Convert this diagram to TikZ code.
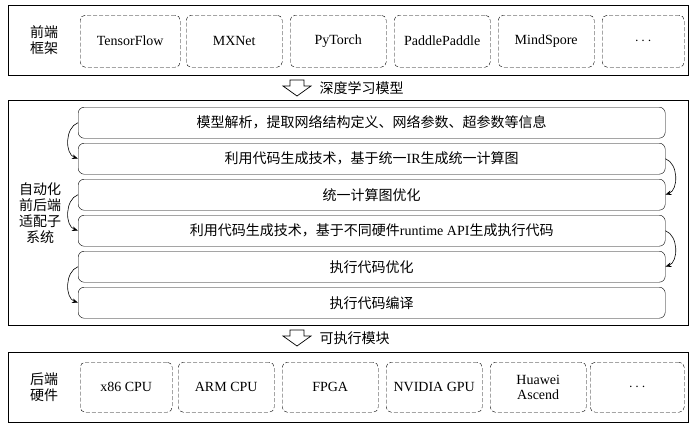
\documentclass[tikz,border=0pt]{standalone}
\usepackage{fontspec}
\setmainfont{Liberation Serif}
\newfontfamily\cjk{Noto Sans CJK SC}
\usetikzlibrary{arrows.meta}
\begin{document}
\begin{tikzpicture}[x=1pt,y=-1pt,
  frame/.style={draw,thick,line width=1pt},
  dbox/.style={draw,dash pattern=on 4pt off 2pt,rounded corners=5pt,minimum width=96pt,minimum height=52pt,font=\fontsize{14}{15}\selectfont,align=center,anchor=north west},
  rowbox/.style={draw,rounded corners=6pt,minimum width=587pt,minimum height=31pt,anchor=north west,font=\fontsize{14}{15}\selectfont},
  lab/.style={font=\cjk\fontsize{14}{16}\selectfont,align=center},
  curv/.style={-{Stealth[length=6pt]},line width=0.6pt}]
\useasboundingbox (0,0) rectangle (700,429);
\fill[white] (0,0) rectangle (700,429);
% top
\draw[frame] (8,5) rectangle (688,75);
\node[lab] (tl) at (44,40) {前端\\框架};
\node[dbox,minimum width=100pt] (b1) at (80,15) {TensorFlow};
\node[dbox] (b2) at (186,15) {MXNet};
\node[dbox] (b3) at (290,15) {PyTorch};
\node[dbox] (b4) at (394,15) {PaddlePaddle};
\node[dbox] (b5) at (498,15) {MindSpore};
\node[dbox,minimum width=82pt] (b6) at (602,15) {$\cdots$};
% hollow arrow 1
\draw[line width=0.7pt] (290,80)--(304,80)--(304,86)--(311,86)--(297,96)--(283,86)--(290,86)--cycle;
\node[lab,anchor=west] (a1) at (316,88) {深度学习模型};
% middle
\draw[frame] (8,100) rectangle (688,325);
\node[lab] (ml) at (40,213) {自动化\\前后端\\适配子\\系统};
\node[rowbox] (r1) at (78,107) {\cjk 模型解析，提取网络结构定义、网络参数、超参数等信息};
\node[rowbox] (r2) at (78,143) {{\cjk 利用代码生成技术，基于统一}IR{\cjk 生成统一计算图}};
\node[rowbox] (r3) at (78,179) {\cjk 统一计算图优化};
\node[rowbox] (r4) at (78,215) {{\cjk 利用代码生成技术，基于不同硬件}runtime API{\cjk 生成执行代码}};
\node[rowbox] (r5) at (78,251) {\cjk 执行代码优化};
\node[rowbox] (r6) at (78,287) {\cjk 执行代码编译};
\draw[curv] (r1.west) to[out=200,in=160] (r2.west);
\draw[curv] (r3.west) to[out=200,in=160] (r4.west);
\draw[curv] (r5.west) to[out=200,in=160] (r6.west);
\draw[curv] (r2.east) to[out=-20,in=20] (r3.east);
\draw[curv] (r4.east) to[out=-20,in=20] (r5.east);
% hollow arrow 2
\draw[line width=0.7pt] (290,330)--(304,330)--(304,336)--(311,336)--(297,346)--(283,336)--(290,336)--cycle;
\node[lab,anchor=west] (a2) at (316,338) {可执行模块};
% bottom
\draw[frame] (8,352) rectangle (688,422);
\node[lab] (bl) at (44,387) {后端\\硬件};
\node[dbox,minimum width=92pt,minimum height=50pt] (c1) at (80,362) {x86 CPU};
\node[dbox,minimum height=50pt] (c2) at (178,362) {ARM CPU};
\node[dbox,minimum height=50pt] (c3) at (282,362) {FPGA};
\node[dbox,minimum height=50pt] (c4) at (386,362) {NVIDIA GPU};
\node[dbox,minimum height=50pt] (c5) at (490,362) {Huawei\\Ascend};
\node[dbox,minimum width=94pt,minimum height=50pt] (c6) at (590,362) {$\cdots$};
\end{tikzpicture}
\end{document}
